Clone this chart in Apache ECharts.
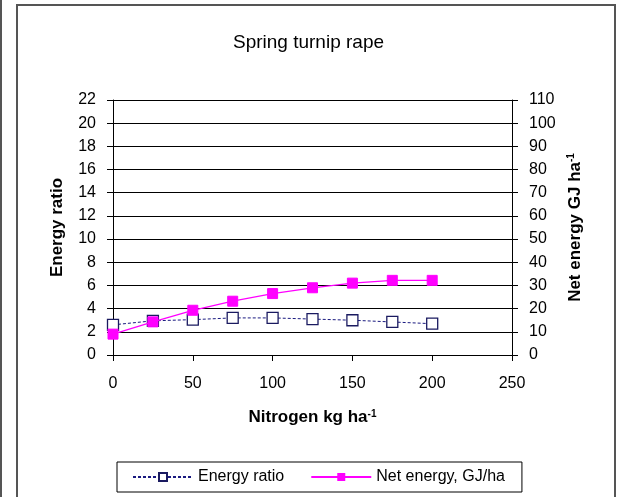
<!DOCTYPE html>
<html lang="en">
<head>
    <meta charset="UTF-8">
    <title>Spring turnip rape</title>
    <script type="text/javascript" src="https://cdn.jsdelivr.net/npm/echarts@6/dist/echarts.min.js"></script>
    <style>
        html, body { margin: 0; padding: 0; background: #fff; }
    </style>
</head>
<body>
<div id="main" style="width: 617px;height:497px;"></div>
<script type="text/javascript">
    var nitrogen = [0, 25, 50, 75, 100, 125, 150, 175, 200];
    var energyRatio = [2.6, 2.95, 3.05, 3.2, 3.2, 3.1, 3.0, 2.85, 2.7];
    var netEnergy = [9, 14.3, 19.3, 23.2, 26.5, 29.0, 31.0, 32.2, 32.2];
    var leftTicks = [0, 22, 2];
    var rightTicks = [0, 110, 10];
    var xTicks = [0, 250, 50];

    function pairs(xs, ys) {
        var out = [];
        for (var i = 0; i < xs.length; i++) {
            out.push([xs[i], ys[i]]);
        }
        return out;
    }

    var font = 'Liberation Sans, Arial, sans-serif';
    var labelStyle = { color: '#000', fontFamily: font, fontSize: 16 };
    var titleRich = {
        b: { color: '#000', fontFamily: font, fontSize: 17, fontWeight: 'bold' },
        sup: { color: '#000', fontFamily: font, fontSize: 10, fontWeight: 'bold', verticalAlign: 'top', padding: [0, 0, 7, 0] }
    };

    var myChart = echarts.init(document.getElementById('main'));

    var option = {
        animation: false,
        backgroundColor: '#fff',
        title: {
            text: 'Spring turnip rape',
            left: 'center',
            top: 28,
            textStyle: { color: '#000', fontFamily: font, fontSize: 19, fontWeight: 'normal' }
        },
        graphic: [
            { type: 'rect', shape: { x: 17, y: 5, width: 598, height: 500 },
              style: { fill: null, stroke: '#555', lineWidth: 2 } },
            { type: 'line', shape: { x1: 1, y1: 0, x2: 1, y2: 497 },
              style: { stroke: '#555', lineWidth: 2 } }
        ],
        grid: { left: 113, right: 105, top: 100, bottom: 142 },
        legend: {
            bottom: 5,
            left: 117,
            padding: [7, 17, 7, 15],
            borderColor: '#000',
            borderWidth: 1,
            itemWidth: 60,
            itemHeight: 10,
            itemGap: 26,
            textStyle: { color: '#000', fontFamily: font, fontSize: 16 },
            data: ['Energy ratio', 'Net energy, GJ/ha']
        },
        xAxis: {
            type: 'value',
            min: xTicks[0], max: xTicks[1], interval: xTicks[2],
            name: '{b|Nitrogen kg ha}{sup|-1}',
            nameLocation: 'middle',
            nameGap: 54,
            nameTextStyle: { rich: titleRich },
            axisLine: { lineStyle: { color: '#000', width: 1 } },
            axisTick: { length: 6, lineStyle: { color: '#000' } },
            axisLabel: Object.assign({ margin: 21 }, labelStyle),
            splitLine: { show: false }
        },
        yAxis: [
            {
                type: 'value',
                min: leftTicks[0], max: leftTicks[1], interval: leftTicks[2],
                name: '{b|Energy ratio}',
                nameLocation: 'middle',
                nameGap: 47,
                nameTextStyle: { rich: titleRich },
                axisLine: { show: true, lineStyle: { color: '#000' } },
                axisTick: { show: true, length: 6, lineStyle: { color: '#000' } },
                axisLabel: Object.assign({ margin: 17 }, labelStyle),
                splitLine: { show: true, lineStyle: { color: '#000', width: 1 } }
            },
            {
                type: 'value',
                min: rightTicks[0], max: rightTicks[1], interval: rightTicks[2],
                name: '{b|Net energy GJ ha}{sup|-1}',
                nameLocation: 'middle',
                nameGap: 52,
                nameRotate: 90,
                nameTextStyle: { rich: titleRich },
                axisLine: { show: true, lineStyle: { color: '#000' } },
                axisTick: { show: true, length: 6, lineStyle: { color: '#000' } },
                axisLabel: Object.assign({ margin: 17 }, labelStyle),
                splitLine: { show: false }
            }
        ],
        series: [
            {
                name: 'Energy ratio',
                type: 'line',
                yAxisIndex: 0,
                data: pairs(nitrogen, energyRatio),
                symbol: 'rect',
                symbolSize: 11,
                lineStyle: { color: '#1a1a80', width: 1, type: [3, 2] },
                itemStyle: { color: '#fff', borderColor: '#1a1a60', borderWidth: 1.3 },
                z: 3
            },
            {
                name: 'Net energy, GJ/ha',
                type: 'line',
                yAxisIndex: 1,
                data: pairs(nitrogen, netEnergy),
                symbol: 'rect',
                symbolSize: 10,
                lineStyle: { color: '#ff00ff', width: 1.3 },
                itemStyle: { color: '#ff00ff', borderColor: '#ff00ff' },
                z: 4
            }
        ]
    };
    myChart.setOption(option);
</script>
</body>
</html>
